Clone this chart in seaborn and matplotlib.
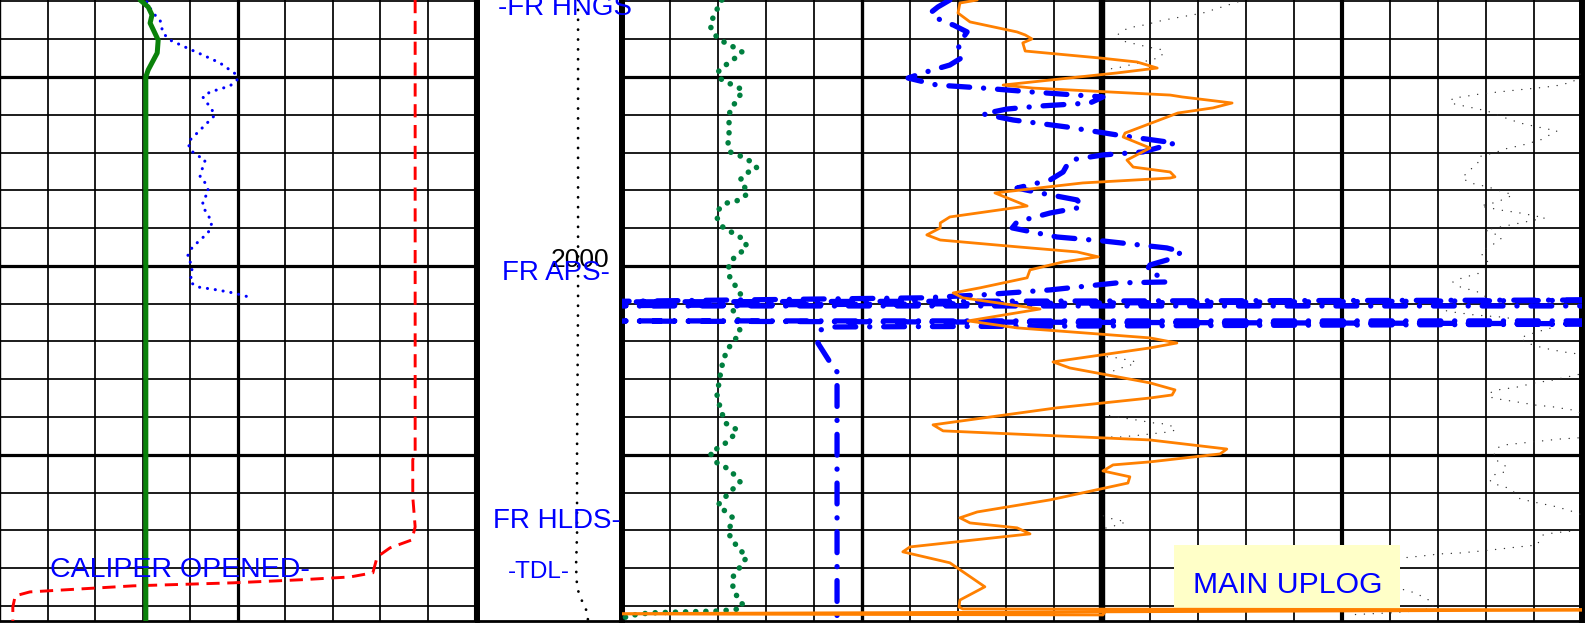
import matplotlib
matplotlib.use("Agg")
import matplotlib.pyplot as plt
from matplotlib.patches import Rectangle
import numpy as np
import seaborn as sns

sns.set_theme(style="white")
plt.rcParams["font.family"] = ["Liberation Sans", "DejaVu Sans"]
plt.rcParams["lines.scale_dashes"] = False

# ---------------- depth window (m) ----------------
TOP, BASE = 1985.93, 2018.79
GRID_DEPTHS = np.arange(1986, 2019, 2)
MAJOR_DEPTHS = (1990, 2000, 2010)

# ---------------- left track (0-10 divisions) ----------------
hcgr_depth = [1985.93, 1986.30, 1986.72, 1987.15, 1988.05, 1988.73, 1989.63, 1990.00, 2018.79]
hcgr_value = [2.95, 3.12, 3.20, 3.16, 3.33, 3.31, 3.12, 3.07, 3.07]

hsgr_depth = [1986.03, 1986.62, 1986.99, 1987.68, 1988.05, 1988.47, 1988.84, 1989.26, 1989.90, 1990.16,
              1990.48, 1990.80, 1991.06, 1991.59, 1992.01, 1992.44, 1992.97, 1993.44, 1993.87, 1994.24,
              1994.40, 1994.92, 1995.29, 1995.61, 1996.09, 1996.51, 1996.88, 1997.30, 1997.73, 1998.26,
              1998.63, 1999.05, 1999.52, 1999.95, 2000.37, 2000.85, 2001.11, 2001.27, 2001.43, 2001.69]
hsgr_value = [3.09, 3.22, 3.37, 3.43, 3.58, 3.94, 4.27, 4.63, 4.99, 4.99,
              4.84, 4.42, 4.27, 4.42, 4.53, 4.36, 4.15, 3.96, 4.00, 4.21,
              4.32, 4.25, 4.21, 4.32, 4.40, 4.27, 4.27, 4.38, 4.46, 4.38,
              4.21, 4.04, 3.94, 4.04, 4.04, 4.00, 4.15, 4.57, 4.91, 5.31]

hcal_depth = [1985.93, 2009.89, 2010.26, 2012.22, 2013.81, 2014.50, 2014.92, 2015.40, 2016.24,
              2016.46, 2016.61, 2016.77, 2016.93, 2017.25, 2017.46, 2018.05, 2018.79]
hcal_value = [8.74, 8.74, 8.69, 8.69, 8.74, 8.67, 8.21, 7.94, 7.85,
              7.37, 6.32, 4.91, 2.80, 0.63, 0.32, 0.27, 0.27]

# ---------------- depth track (tension, 0-10) ----------------
tens_depth = [1985.93, 1993.87, 2001.80, 2009.74, 2014.13, 2015.93, 2016.98, 2017.51, 2017.83, 2018.31, 2018.79]
tens_value = [6.97, 6.97, 6.97, 6.90, 6.90, 6.83, 6.90, 7.10, 7.31, 7.59, 7.66]

# ---------------- right track (0-20 divisions) ----------------
hdra_depth = [1985.93, 1986.62, 1987.25, 1987.68, 1988.05,
              1988.31, 1988.68, 1989.10, 1989.48, 1989.79,
              1990.16, 1990.43, 1990.69, 1991.22, 1991.75,
              1992.28, 1992.97, 1993.50, 1993.97, 1994.24,
              1994.55, 1994.82, 1995.08, 1995.45, 1996.14,
              1996.51, 1996.67, 1997.04, 1997.46, 1997.94,
              1998.26, 1998.63, 1999.05, 1999.42, 1999.79,
              2000.21, 2000.63, 2001.27, 2001.64, 2001.96,
              2002.33, 2002.86, 2003.49, 2003.92, 2004.44,
              2005.08, 2005.87, 2006.83, 2007.46, 2008.31,
              2008.68, 2009.21, 2009.58, 2009.89, 2010.42,
              2010.79, 2011.43, 2011.96, 2012.65, 2013.07,
              2013.33, 2014.13, 2014.87, 2015.40, 2015.93,
              2016.46, 2017.04, 2017.51, 2017.94, 2018.15,
              2018.26, 2018.31, 2018.36, 2018.52, 2018.62]
hdra_value = [2.08, 1.94, 1.83, 1.90, 2.04,
              2.25, 2.50, 2.31, 2.10, 1.98,
              2.08, 2.31, 2.52, 2.40, 2.25,
              2.23, 2.23, 2.21, 2.25, 2.52,
              2.73, 2.81, 2.60, 2.46, 2.63,
              2.46, 2.19, 2.00, 1.98, 2.10,
              2.31, 2.56, 2.60, 2.40, 2.25,
              2.21, 2.25, 2.42, 2.50, 2.40,
              2.31, 2.42, 2.46, 2.35, 2.19,
              2.10, 2.04, 1.98, 2.04, 2.15,
              2.40, 2.25, 2.04, 1.83, 1.98,
              2.25, 2.46, 2.25, 2.00, 2.19,
              2.31, 2.21, 2.40, 2.60, 2.46,
              2.31, 2.31, 2.40, 2.52, 2.46,
              2.04, 1.27, 0.58, 0.10, 0.06]

rhoz_depth = [1985.93, 1986.09, 1986.62, 1987.09, 1987.62,
              1987.78, 1987.99, 1988.20, 1988.63, 1989.00,
              1989.21, 1989.53, 1989.79, 1990.43, 1990.59,
              1990.96, 1991.06, 1991.38, 1991.64, 1991.91,
              1992.97, 1993.18, 1993.76, 1994.40, 1994.77,
              1995.03, 1995.29, 1995.35, 1995.61, 1996.14,
              1996.83, 1997.41, 1997.73, 1997.99, 1998.36,
              1998.63, 1998.99, 1999.26, 1999.52, 1999.79,
              2000.21, 2000.63, 2001.16, 2001.43, 2001.69,
              2002.28, 2002.91, 2003.28, 2003.54, 2003.81,
              2004.08, 2004.34, 2005.08, 2005.40, 2006.19,
              2006.56, 2006.83, 2006.99, 2007.51, 2008.41,
              2008.73, 2009.21, 2009.69, 2009.95, 2010.37,
              2010.53, 2010.85, 2011.16, 2011.49, 2012.38,
              2013.02, 2013.33, 2013.60, 2013.86, 2014.18,
              2014.87, 2015.13, 2015.71, 2016.98, 2017.68,
              2018.05, 2018.15, 2018.20, 2018.41, 2018.47,
              2018.31]
rhoz_value = [7.40, 7.04, 7.00, 7.25, 8.23,
              8.40, 8.54, 8.35, 8.40, 9.96,
              10.73, 11.15, 10.31, 7.94, 8.56,
              11.42, 11.67, 12.71, 12.31, 11.58,
              10.48, 10.44, 11.00, 10.52, 10.65,
              11.42, 11.52, 11.42, 9.60, 7.77,
              8.44, 6.83, 6.63, 6.63, 6.35,
              6.63, 8.23, 9.48, 9.92, 9.19,
              8.50, 8.44, 7.46, 6.90, 7.10,
              8.71, 7.21, 8.23, 9.60, 11.00,
              11.56, 11.00, 8.98, 9.33, 11.00,
              11.52, 11.46, 11.00, 9.06, 6.48,
              6.69, 11.00, 12.60, 12.46, 11.00,
              10.23, 10.02, 10.58, 10.54, 8.92,
              7.40, 7.04, 7.25, 8.23, 8.50,
              6.00, 5.85, 6.83, 7.56, 7.04,
              7.02, 7.10, 21.50, -1.30, 10.02,
              10.06]

aplc_depth = [1985.93, 1986.30, 1986.62, 1987.09, 1987.25,
              1987.62, 1988.31, 1988.95, 1989.37, 1989.63,
              1989.79, 1990.06, 1990.43, 1990.59, 1990.80,
              1991.06, 1991.38, 1991.54, 1991.70, 1991.96,
              1992.28, 1992.65, 1993.07, 1993.50, 1993.97,
              1994.13, 1994.40, 1995.03, 1995.45, 1995.88,
              1996.14, 1996.51, 1996.88, 1997.20, 1997.67,
              1997.99, 1998.47, 1998.68, 1999.05, 1999.26,
              1999.69, 1999.95, 2000.21, 2000.58, 2000.85,
              2000.90, 2001.27, 2001.53, 2001.69, 2001.91,
              2001.80, 2002.12, 2002.12, 2002.91, 2002.91,
              2003.07, 2003.23, 2003.39, 2004.08, 2005.08,
              2005.61, 2018.79]
aplc_value = [6.83, 6.58, 6.42, 6.69, 6.90,
              7.19, 7.00, 7.10, 6.83, 6.48,
              6.27, 5.96, 6.56, 7.52, 8.56,
              10.02, 9.75, 8.71, 8.02, 7.52,
              8.15, 9.27, 10.31, 11.52, 10.85,
              10.02, 9.33, 9.19, 8.92, 8.23,
              8.71, 9.48, 9.60, 8.92, 8.23,
              8.13, 9.06, 10.02, 11.35, 11.67,
              11.35, 11.00, 10.94, 11.21, 11.35,
              10.31, 8.92, 7.52, 6.27, -1.30,
              21.50, -1.30, 21.50, 21.50, -1.30,
              21.50, 4.40, 4.13, 4.08, 4.33,
              4.48, 4.48]

pefz_depth = [1986.03, 1986.62, 1986.99, 1987.25, 1987.41, 1987.89, 1988.05, 1988.20, 1988.42, 1988.58,
              1988.95, 1989.10, 1989.26, 1989.48, 1989.63, 1990.27, 1990.48, 1990.59, 1990.69, 1990.80,
              1990.90, 1991.06, 1991.11, 1991.38, 1991.59, 1991.80, 1992.12, 1992.44, 1992.65, 1992.86,
              1993.34, 1993.60, 1993.81, 1993.97, 1994.24, 1994.55, 1995.08, 1995.35, 1995.61, 1995.82,
              1996.14, 1996.25, 1996.62, 1996.83, 1997.04, 1997.20, 1997.46, 1997.73, 1997.94, 1998.10,
              1998.26, 1998.52, 1998.99, 1999.16, 1999.47, 1999.79, 2000.06, 2000.37, 2000.64, 2000.85,
              2001.11, 2001.38, 2001.59, 2001.80, 2001.96, 2002.12, 2002.28, 2002.44, 2002.60, 2002.70,
              2002.91, 2003.02, 2003.23, 2003.34, 2003.50, 2003.65, 2003.81, 2004.08, 2004.34, 2004.55,
              2004.61, 2004.82, 2004.87, 2004.98, 2005.08, 2005.24, 2005.40, 2005.56, 2005.66, 2005.82,
              2006.04, 2006.19, 2006.41, 2006.56, 2006.72, 2006.93, 2007.04, 2007.20, 2007.36, 2007.46,
              2007.62, 2007.89, 2007.99, 2008.15, 2008.31, 2008.36, 2008.47, 2008.68, 2008.79, 2008.84,
              2008.95, 2009.05, 2009.05, 2009.10, 2009.16, 2009.26, 2009.37, 2009.47, 2009.63, 2010.11,
              2010.43, 2010.64, 2010.96, 2011.06, 2011.33, 2011.54, 2011.64, 2011.86, 2012.33, 2012.54,
              2012.75, 2012.91, 2013.07, 2013.34, 2013.44, 2013.55, 2013.81, 2014.03, 2014.13, 2014.24,
              2014.77, 2014.87, 2014.98, 2015.08, 2015.19, 2015.24, 2015.35, 2015.45, 2015.51, 2015.82,
              2016.35, 2016.88, 2017.15, 2017.30, 2017.52, 2017.78, 2018.10, 2018.26, 2018.36, 2018.42,
              2018.47]
pefz_value = [22.83, 22.10, 21.29, 20.88, 20.54, 20.25, 20.35, 20.60, 20.96, 21.29,
              21.23, 21.02, 20.75, 20.40, 20.04, 19.81, 19.44, 19.06, 18.65, 18.25,
              17.88, 17.50, 17.31, 17.25, 17.63, 18.02, 18.35, 18.71, 19.08, 19.48,
              19.13, 18.77, 18.40, 18.23, 17.83, 17.83, 17.60, 17.50, 17.67, 18.04,
              18.44, 18.56, 18.23, 17.88, 18.29, 18.71, 19.23, 18.71, 18.29, 17.98,
              18.15, 18.33, 18.08, 17.92, 17.92, 18.04, 18.04, 17.88, 17.50, 17.31,
              17.46, 17.83, 17.98, 17.98, 17.67, 17.25, 16.98, 17.31, 17.77, 18.29,
              18.92, 19.23, 19.44, 19.27, 19.06, 18.88, 18.71, 18.85, 19.19, 19.60,
              19.81, 20.13, 20.33, 20.54, 20.71, 20.60, 20.40, 20.23, 20.08, 19.79,
              19.40, 19.02, 18.65, 18.25, 18.08, 18.06, 18.25, 18.65, 19.02, 19.40,
              19.79, 20.08, 20.29, 20.71, 21.08, 21.29, 21.44, 21.54, 21.38, 21.19,
              20.81, 20.40, 20.23, 19.92, 19.54, 19.17, 18.77, 18.40, 18.23, 18.15,
              18.29, 18.44, 18.35, 18.15, 18.08, 18.15, 18.35, 18.54, 18.71, 19.08,
              19.48, 19.69, 19.90, 20.13, 20.33, 20.50, 20.19, 19.79, 19.40, 19.19,
              19.06, 18.67, 18.29, 17.92, 17.46, 17.04, 16.67, 16.27, 16.06, 15.58,
              15.38, 15.90, 16.31, 16.52, 16.69, 16.88, 16.90, 16.52, 16.00, 15.52,
              15.10]
PEFZ_BACKUP_SHIFT = 10  # backup scale wraps half a track

# ---------------- figure / tracks ----------------
W, H = 1586, 623
fig = plt.figure(figsize=(W / 100, H / 100), dpi=100, facecolor="white")


def track(x0, x1):
    return fig.add_axes([x0 / W, 2 / H, (x1 - x0) / W, 621 / H])


ax_l = track(0, 475)
ax_d = track(477, 622)
ax_r = track(622, 1582)

for ax, ncols, bold in ((ax_l, 10, {5: 2.3}), (ax_r, 20, {5: 2.4, 10: 4.6, 15: 3.0})):
    for k in range(1, ncols):
        ax.axvline(k, color="black", lw=bold.get(k, 1.25), zorder=1)
    for d in GRID_DEPTHS:
        ax.axhline(d, color="black", lw=2.3 if d in MAJOR_DEPTHS else 1.25, zorder=1)


def draw_curve(ax, depth, value, color, lw, dashes=None, cap="butt", z=5):
    sns.lineplot(x=value, y=depth, ax=ax, sort=False, estimator=None,
                 color=color, linewidth=lw, zorder=z, legend=False)
    line = ax.lines[-1]
    line.set_solid_joinstyle("round")
    if dashes is not None:
        line.set_dashes(dashes)
        line.set_dash_capstyle(cap)
    return line


# left track curves
draw_curve(ax_l, hcal_depth, hcal_value, "#ff0000", 2.1, dashes=(9.5, 5.5))
draw_curve(ax_l, hsgr_depth, hsgr_value, "#0000ff", 2.2, dashes=(0.1, 5.6), cap="round")
draw_curve(ax_l, hcgr_depth, hcgr_value, "#0a820a", 3.6)

# depth track tension
draw_curve(ax_d, tens_depth, tens_value, "black", 2.0, dashes=(0.1, 7.0), cap="round")

# right track curves
draw_curve(ax_r, pefz_depth, pefz_value, "#333333", 1.0, dashes=(0.1, 6.3), cap="round", z=3)
backup = draw_curve(ax_r, pefz_depth, [v - PEFZ_BACKUP_SHIFT for v in pefz_value],
                    "#333333", 1.0, dashes=(0.1, 6.3), cap="round", z=3)
backup.set_clip_path(Rectangle((10, TOP), 10, BASE - TOP, transform=ax_r.transData))
draw_curve(ax_r, hdra_depth, hdra_value, "#007f3f", 4.0, dashes=(0.1, 7.2), cap="round")
draw_curve(ax_r, rhoz_depth, rhoz_value, "#ff8000", 2.0, z=6)
draw_curve(ax_r, aplc_depth, aplc_value, "#0000ff", 3.8, dashes=(15.0, 10.0, 0.1, 10.0), cap="round")

# frame styling
for ax in (ax_l, ax_d, ax_r):
    ax.set_ylim(BASE, TOP)
    ax.set_xticks([])
    ax.set_yticks([])
    ax.set_xlabel("")
    ax.set_ylabel("")
    ax.spines["top"].set_visible(False)
    for side in ("left", "right", "bottom"):
        ax.spines[side].set_color("black")
    ax.spines["bottom"].set_linewidth(2.0)
ax_l.set_xlim(0, 10)
ax_d.set_xlim(0, 10)
ax_r.set_xlim(0, 20)
ax_l.spines["left"].set_linewidth(1.0)
ax_l.spines["right"].set_linewidth(1.5)
ax_d.spines["left"].set_linewidth(3.6)
ax_d.spines["right"].set_linewidth(4.3)
ax_r.spines["left"].set_linewidth(4.3)
ax_r.spines["right"].set_linewidth(4.3)

# annotations
BLUE = "#0000ff"
ax_l.text(1.05, 2016.46, "CALIPER OPENED-", color=BLUE, fontsize=20.5,
          ha="left", va="baseline", zorder=8)

depth_labels = [
    (1.45, 1986.72, "-FR HNGS", BLUE, 20),
    (7.10, 2000.05, "2000", "black", 19),
    (1.72, 2000.74, "FR APS-", BLUE, 20),
    (1.10, 2013.86, "FR HLDS-", BLUE, 20),
    (2.14, 2016.51, "-TDL-", BLUE, 17.5),
]
for x, d, s, c, fs in depth_labels:
    fig.text(x, d, s, color=c, fontsize=fs, transform=ax_d.transData,
             ha="center" if s == "2000" else "left", va="baseline", zorder=8)

ax_r.add_patch(Rectangle((11.5, 2014.77), 4.71, 3.43, facecolor="#ffffc8",
                         edgecolor="none", zorder=4))
ax_r.text(13.86, 2017.30, "MAIN UPLOG", color=BLUE, fontsize=21.7,
          ha="center", va="baseline", zorder=7)

fig.savefig("out.png", dpi=100, facecolor="white")
